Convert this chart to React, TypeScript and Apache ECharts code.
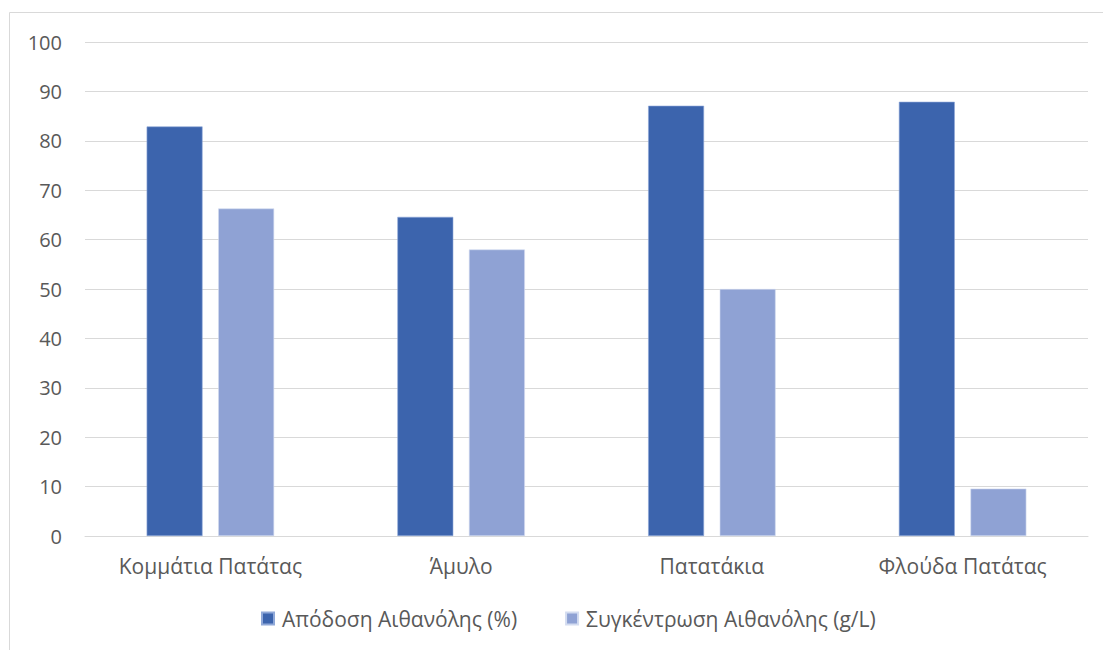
import React, { useEffect, useRef } from "react";
import * as echarts from "echarts";

const categories = ["Κομμάτια Πατάτας", "Άμυλο", "Πατατάκια", "Φλούδα Πατάτας"];
const seriesNames = ["Απόδοση Αιθανόλης (%)", "Συγκέντρωση Αιθανόλης (g/L)"];
const yieldValues = [82.9, 64.6, 87.1, 87.9];
const concValues = [66.3, 58.0, 50.0, 9.6];
const yTicks = { min: 0, max: 100, interval: 10 };

const FONT = "Open Sans";
const TEXT = "#595959";

export default function App() {
  const ref = useRef<HTMLDivElement>(null);
  useEffect(() => {
    if (!ref.current) return;
    const chart = echarts.init(ref.current, null, { renderer: "svg" });
    chart.setOption({
      animation: false,
      backgroundColor: "#ffffff",
      textStyle: { fontFamily: FONT },
      graphic: [
        {
          type: "rect",
          shape: { x: 9.5, y: 12.5, width: 1200, height: 700 },
          style: { fill: "none", stroke: "#d9d9d9", lineWidth: 1 },
          silent: true,
        },
      ],
      grid: { left: 85, right: 15, top: 42, bottom: 114, containLabel: false },
      legend: {
        bottom: 16,
        left: 256,
        itemWidth: 12,
        itemHeight: 12,
        itemGap: 48,
        icon: "rect",
        textStyle: { fontSize: 21, color: TEXT, fontFamily: FONT, padding: [0, 0, 0, 3] },
        data: seriesNames,
      },
      xAxis: {
        type: "category",
        data: categories,
        axisLine: { show: true, lineStyle: { color: "#d9d9d9", width: 1 } },
        axisTick: { show: false },
        axisLabel: { color: TEXT, fontSize: 21, margin: 19, fontFamily: FONT },
      },
      yAxis: {
        type: "value",
        min: yTicks.min,
        max: yTicks.max,
        interval: yTicks.interval,
        axisLine: { show: false },
        axisTick: { show: false },
        splitLine: { lineStyle: { color: "#d9d9d9", width: 1 } },
        axisLabel: { color: TEXT, fontSize: 20, margin: 23, fontFamily: FONT },
      },
      series: [
        {
          name: seriesNames[0],
          type: "bar",
          data: yieldValues,
          barWidth: "22.3%",
          barGap: "28%",
          itemStyle: { color: "#3C64AD", borderColor: "#8fa8d8", borderWidth: 0.6 },
        },
        {
          name: seriesNames[1],
          type: "bar",
          data: concValues,
          barWidth: "22.3%",
          itemStyle: { color: "#8FA2D4", borderColor: "#d3dcf0", borderWidth: 0.6 },
        },
      ],
    });
    return () => chart.dispose();
  }, []);
  return (
    <div
      ref={ref}
      style={{ position: "fixed", left: 0, top: 0, width: 1103, height: 650 }}
    />
  );
}
